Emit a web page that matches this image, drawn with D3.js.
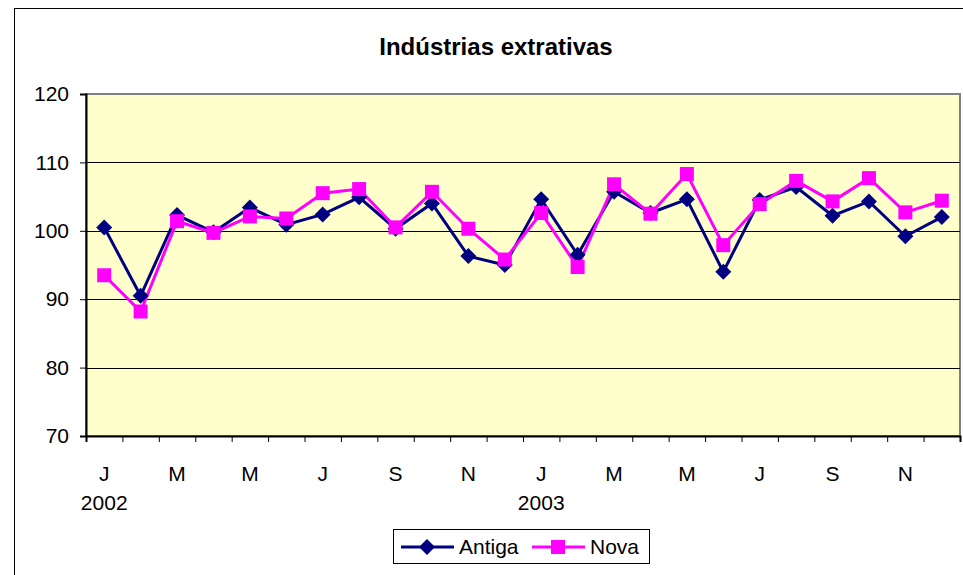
<!DOCTYPE html>
<html>
<head>
<meta charset="utf-8">
<script src="https://cdn.jsdelivr.net/npm/d3@7"></script>
<style>
  html, body { margin: 0; padding: 0; background: #fff; }
  svg { display: block; font-family: "Liberation Sans", Arial, sans-serif; }
</style>
</head>
<body>
<svg id="chart" width="963" height="575"></svg>
<script>
const title = "Indústrias extrativas";
const months = ["J","F","M","A","M","J","J","A","S","O","N","D","J","F","M","A","M","J","J","A","S","O","N","D"];
const years = ["2002", "", "", "", "", "", "", "", "", "", "", "", "2003", "", "", "", "", "", "", "", "", "", "", ""];
const antiga = [100.5, 90.5, 102.3, 99.8, 103.4, 100.9, 102.4, 104.9, 100.3, 104.0, 96.3, 95.0, 104.6, 96.5, 105.7, 102.6, 104.6, 94.0, 104.5, 106.4, 102.2, 104.3, 99.2, 102.0];
const nova   = [93.5, 88.2, 101.4, 99.7, 102.1, 101.8, 105.5, 106.1, 100.5, 105.7, 100.3, 95.8, 102.6, 94.7, 106.8, 102.5, 108.3, 97.9, 103.9, 107.3, 104.3, 107.7, 102.7, 104.4];
const yTicks = [70, 80, 90, 100, 110, 120];
const seriesNames = ["Antiga", "Nova"];

const svg = d3.select("#chart");
const L = 86, R = 960, T = 94, B = 436;
const FS = 21;

// outer chart border
svg.append("rect").attr("x", 14.5).attr("y", 8.5).attr("width", 1000).attr("height", 700)
  .attr("fill", "#fff").attr("stroke", "#000").attr("stroke-width", 1);

const idx = d3.range(months.length);
const x = d3.scaleBand().domain(idx).range([L, R]).padding(0);
const xb = d3.scaleLinear().domain([0, months.length]).range([L, R]);
const y = d3.scaleLinear().domain([70, 120]).range([B, T]);
const cx = i => x(i) + x.bandwidth() / 2;

// plot area
svg.append("rect").attr("x", L).attr("y", T).attr("width", R - L).attr("height", B - T)
  .attr("fill", "#FFFFCC").attr("stroke", "#808080").attr("stroke-width", 2);

// gridlines
svg.append("g").selectAll("line").data(yTicks.filter(v => v > 70 && v < 120)).join("line")
  .attr("x1", L).attr("x2", R)
  .attr("y1", d => Math.round(y(d)) + 0.5).attr("y2", d => Math.round(y(d)) + 0.5)
  .attr("stroke", "#000").attr("stroke-width", 1);

// y axis
const yAxis = d3.axisLeft(y).tickValues(yTicks).tickSize(6).tickPadding(11).tickFormat(d3.format("d"));
const gy = svg.append("g").attr("transform", `translate(${L},0)`).call(yAxis);
gy.select(".domain").attr("stroke", "#000").attr("stroke-width", 2);
gy.selectAll(".tick line").attr("stroke", "#000");
gy.selectAll("text").attr("font-size", FS).attr("fill", "#000").attr("font-family", "Liberation Sans, Arial, sans-serif");

// x axis (ticks at category boundaries)
const xAxis = d3.axisBottom(xb).tickValues(d3.range(months.length + 1)).tickSize(6).tickFormat("");
const gx = svg.append("g").attr("transform", `translate(0,${B})`).call(xAxis);
gx.select(".domain").attr("stroke", "#000").attr("stroke-width", 2);
gx.selectAll(".tick line").attr("stroke", "#000");

// month labels
svg.append("g").selectAll("text").data(idx.filter(i => i % 2 === 0)).join("text")
  .attr("x", i => cx(i)).attr("y", 481)
  .attr("text-anchor", "middle").attr("font-size", FS).attr("fill", "#000")
  .text(i => months[i]);
svg.append("g").selectAll("text").data(idx.filter(i => years[i] !== "")).join("text")
  .attr("x", i => cx(i)).attr("y", 510)
  .attr("text-anchor", "middle").attr("font-size", FS).attr("fill", "#000")
  .text(i => years[i]);

// title
svg.append("text").attr("x", 496).attr("y", 55).attr("text-anchor", "middle")
  .attr("font-size", 24).attr("font-weight", "bold").attr("fill", "#000").text(title);

// lines
const line = d3.line().x((d, i) => cx(i)).y(d => y(d));
svg.append("path").datum(antiga).attr("d", line).attr("fill", "none").attr("stroke", "#000080").attr("stroke-width", 3);
svg.append("path").datum(nova).attr("d", line).attr("fill", "none").attr("stroke", "#FF00FF").attr("stroke-width", 3);

function drawDiamond(g, px, py) {
  const s = 8;
  g.append("path").attr("d", `M${px},${py - s}L${px + s},${py}L${px},${py + s}L${px - s},${py}Z`).attr("fill", "#000080");
}
function drawSquare(g, px, py) {
  const s = 7;
  g.append("rect").attr("x", px - s).attr("y", py - s).attr("width", 2 * s).attr("height", 2 * s).attr("fill", "#FF00FF");
}
const gm = svg.append("g");
antiga.forEach((v, i) => drawDiamond(gm, cx(i), y(v)));
const gm2 = svg.append("g");
nova.forEach((v, i) => drawSquare(gm2, cx(i), y(v)));

// legend
const lg = svg.append("g");
lg.append("rect").attr("x", 393.5).attr("y", 529.5).attr("width", 256).attr("height", 34)
  .attr("fill", "#fff").attr("stroke", "#000").attr("stroke-width", 1);
const ly = 547;
lg.append("line").attr("x1", 401).attr("x2", 454).attr("y1", ly).attr("y2", ly).attr("stroke", "#000080").attr("stroke-width", 3);
drawDiamond(lg, 427, ly);
lg.append("text").attr("x", 459).attr("y", ly + 7).attr("font-size", FS).attr("fill", "#000").text(seriesNames[0]);
lg.append("line").attr("x1", 532).attr("x2", 585).attr("y1", ly).attr("y2", ly).attr("stroke", "#FF00FF").attr("stroke-width", 3);
drawSquare(lg, 558, ly);
lg.append("text").attr("x", 590).attr("y", ly + 7).attr("font-size", FS).attr("fill", "#000").text(seriesNames[1]);
</script>
</body>
</html>
